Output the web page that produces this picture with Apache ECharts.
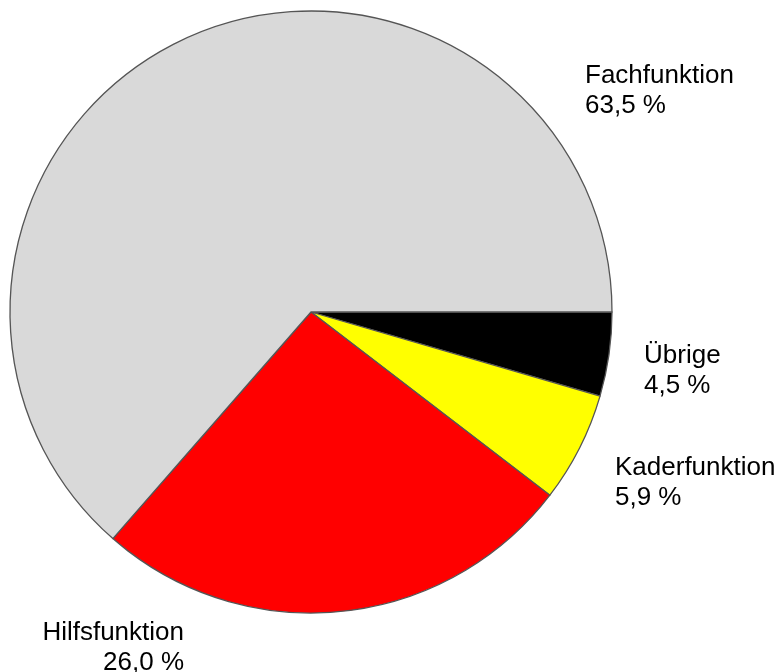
<!DOCTYPE html>
<html><head><meta charset="utf-8">
<script src="https://cdn.jsdelivr.net/npm/echarts@6/dist/echarts.min.js"></script>
<style>html,body{margin:0;padding:0;background:#fff}#c{width:781px;height:672px}</style>
</head><body><div id="c"></div>
<script>
const categories = ['Übrige', 'Kaderfunktion', 'Hilfsfunktion', 'Fachfunktion'];
const values = [4.5, 5.9, 26.0, 63.5];
const colors = ['#000000', '#ffff00', '#ff0000', '#d9d9d9'];
const labelPos = [
  {x: 644, y: 341, align: 'left'},
  {x: 615, y: 453, align: 'left'},
  {x: 184, y: 618, align: 'right'},
  {x: 585, y: 61, align: 'left'}
];
const chart = echarts.init(document.getElementById('c'), null, {renderer: 'canvas'});
chart.setOption({
  animation: false,
  series: [{
    type: 'pie',
    center: [311, 312],
    radius: 301,
    startAngle: 0,
    clockwise: true,
    avoidLabelOverlap: false,
    data: categories.map((n, i) => ({name: n, value: values[i], itemStyle: {color: colors[i]}})),
    itemStyle: {borderColor: '#555555', borderWidth: 1.3},
    label: {
      show: true,
      position: 'outside',
      fontFamily: 'Liberation Sans, Arial, sans-serif',
      fontSize: 26,
      lineHeight: 30,
      color: '#000',
      formatter: p => p.name + '\n' + p.value.toFixed(1).replace('.', ',') + ' %'
    },
    labelLine: {show: false},
    labelLayout: function (params) {
      const p = labelPos[params.dataIndex];
      return {x: p.x, y: p.y, align: p.align, verticalAlign: 'top', hideOverlap: false};
    },
    emphasis: {disabled: true}
  }]
});
</script></body></html>
